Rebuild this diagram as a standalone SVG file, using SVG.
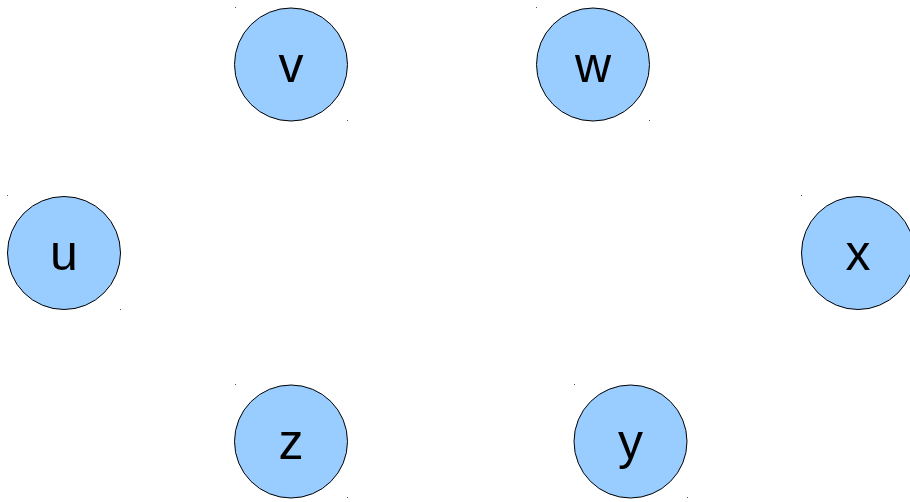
<svg xmlns="http://www.w3.org/2000/svg" width="910" height="502" viewBox="0 0 910 502">
<style>
.n{fill:#99ccff;stroke:#000;stroke-width:1}
.t{font-family:"Liberation Sans",Arial,sans-serif;font-size:50px;fill:#000;text-anchor:middle}
.d{fill:#555}
</style>
<rect width="910" height="502" fill="#fff"/>
<g id="edges"></g>
<g id="v"><rect class="d" x="235" y="7" width="1" height="1"/><rect class="d" x="347" y="120" width="1" height="1"/><circle class="n" cx="291" cy="64.5" r="56.5"/><text class="t" x="291" y="81.5">v</text></g>
<g id="w"><rect class="d" x="536" y="7" width="1" height="1"/><rect class="d" x="649" y="120" width="1" height="1"/><circle class="n" cx="593" cy="64.5" r="56.5"/><text class="t" x="593" y="81.5">w</text></g>
<g id="u"><rect class="d" x="7" y="195" width="1" height="1"/><rect class="d" x="120" y="309" width="1" height="1"/><circle class="n" cx="64" cy="253" r="56.5"/><text class="t" x="64" y="270">u</text></g>
<g id="x"><rect class="d" x="801" y="195" width="1" height="1"/><circle class="n" cx="858" cy="253" r="56.5"/><text class="t" x="858" y="270">x</text></g>
<g id="z"><rect class="d" x="235" y="384" width="1" height="1"/><rect class="d" x="347" y="497" width="1" height="1"/><circle class="n" cx="291" cy="441.5" r="56.5"/><text class="t" x="291" y="458.5">z</text></g>
<g id="y"><rect class="d" x="574" y="384" width="1" height="1"/><rect class="d" x="687" y="497" width="1" height="1"/><circle class="n" cx="630.5" cy="441.5" r="56.5"/><text class="t" x="630.5" y="458.5">y</text></g>
</svg>
